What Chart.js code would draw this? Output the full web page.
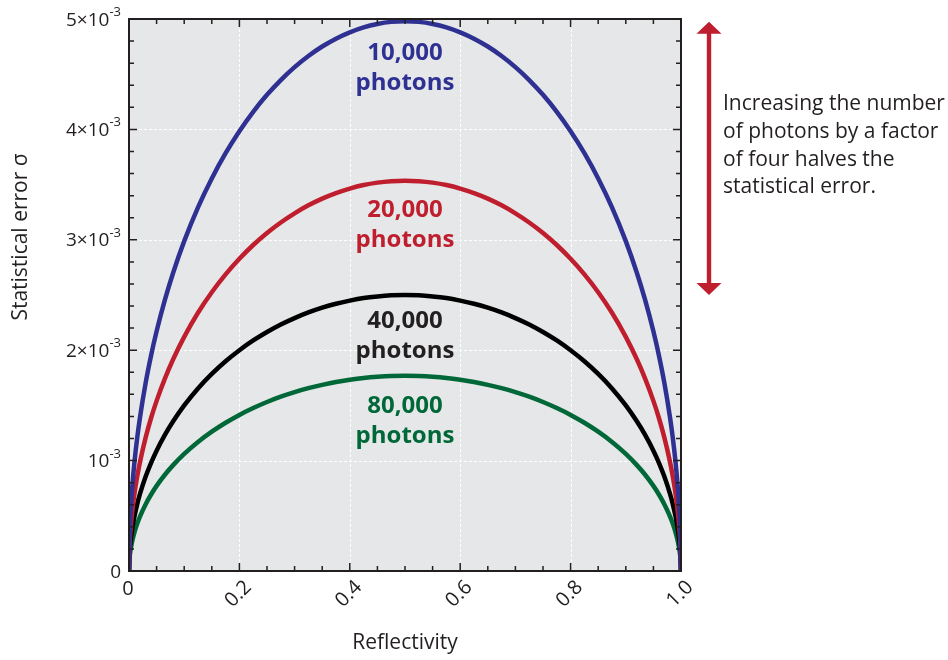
<!DOCTYPE html>
<html>
<head>
<meta charset="utf-8">
<script src="https://cdn.jsdelivr.net/npm/chart.js@4.4.1/dist/chart.umd.min.js"></script>
<style>
  html, body { margin: 0; padding: 0; background: #fff; }
  canvas { display: block; }
</style>
</head>
<body>
<canvas id="myChart" width="948" height="660"></canvas>
<script>
// Reflectivity R (x axis)
var reflectivity = [0, 0.001, 0.003, 0.006, 0.01, 0.015, 0.02, 0.03, 0.04, 0.05, 0.065, 0.08, 0.1, 0.125, 0.15, 0.175,
  0.2, 0.225, 0.25, 0.275, 0.3, 0.325, 0.35, 0.375, 0.4, 0.425, 0.45, 0.475, 0.5,
  0.525, 0.55, 0.575, 0.6, 0.625, 0.65, 0.675, 0.7, 0.725, 0.75, 0.775, 0.8,
  0.825, 0.85, 0.875, 0.9, 0.92, 0.935, 0.95, 0.96, 0.97, 0.98, 0.985, 0.99, 0.994, 0.997, 0.999, 1];

// Statistical error sigma, in units of 10^-3
var sigma10k = [0, 0.315, 0.545, 0.769, 0.991, 1.211, 1.394, 1.699, 1.952, 2.171, 2.455, 2.702, 2.988, 3.294, 3.556, 3.785,
  3.984, 4.159, 4.313, 4.447, 4.564, 4.665, 4.751, 4.822, 4.879, 4.924, 4.955, 4.974, 4.980,
  4.974, 4.955, 4.924, 4.879, 4.822, 4.751, 4.665, 4.564, 4.447, 4.313, 4.159, 3.984,
  3.785, 3.556, 3.294, 2.988, 2.702, 2.455, 2.171, 1.952, 1.699, 1.394, 1.211, 0.991, 0.769, 0.545, 0.315, 0];
var sigma20k = [0, 0.224, 0.387, 0.546, 0.704, 0.860, 0.990, 1.206, 1.386, 1.541, 1.743, 1.918, 2.121, 2.339, 2.525, 2.687,
  2.828, 2.953, 3.062, 3.157, 3.240, 3.312, 3.373, 3.423, 3.464, 3.496, 3.518, 3.531, 3.536,
  3.531, 3.518, 3.496, 3.464, 3.423, 3.373, 3.312, 3.240, 3.157, 3.062, 2.953, 2.828,
  2.687, 2.525, 2.339, 2.121, 1.918, 1.743, 1.541, 1.386, 1.206, 0.990, 0.860, 0.704, 0.546, 0.387, 0.224, 0];
var sigma40k = [0, 0.158, 0.273, 0.386, 0.497, 0.608, 0.700, 0.853, 0.980, 1.090, 1.233, 1.356, 1.500, 1.654, 1.785, 1.900,
  2.000, 2.088, 2.165, 2.233, 2.291, 2.342, 2.385, 2.421, 2.449, 2.472, 2.487, 2.497, 2.500,
  2.497, 2.487, 2.472, 2.449, 2.421, 2.385, 2.342, 2.291, 2.233, 2.165, 2.088, 2.000,
  1.900, 1.785, 1.654, 1.500, 1.356, 1.233, 1.090, 0.980, 0.853, 0.700, 0.608, 0.497, 0.386, 0.273, 0.158, 0];
var sigma80k = [0, 0.112, 0.193, 0.273, 0.352, 0.430, 0.495, 0.603, 0.693, 0.771, 0.872, 0.959, 1.061, 1.169, 1.262, 1.343,
  1.414, 1.476, 1.531, 1.579, 1.620, 1.656, 1.686, 1.712, 1.732, 1.748, 1.759, 1.766, 1.768,
  1.766, 1.759, 1.748, 1.732, 1.712, 1.686, 1.656, 1.620, 1.579, 1.531, 1.476, 1.414,
  1.343, 1.262, 1.169, 1.061, 0.959, 0.872, 0.771, 0.693, 0.603, 0.495, 0.430, 0.352, 0.273, 0.193, 0.112, 0];

var seriesNames = ['10,000', '20,000', '40,000', '80,000'];
var seriesColors = ['#2e3192', '#be1e2d', '#000000', '#006838'];
var seriesTextColors = ['#2e3192', '#be1e2d', '#231f20', '#006838'];
var labelY = [4.63, 3.21, 2.20, 1.43]; // where the "N photons" labels sit (10^-3)

// Tick labels
var xTickValues = [0, 0.2, 0.4, 0.6, 0.8, 1.0];
var xTickLabels = ['0', '0.2', '0.4', '0.6', '0.8', '1.0'];
var yTickValues = [0, 1, 2, 3, 4, 5];
var yTickBase = ['0', '10', '2\u00d710', '3\u00d710', '4\u00d710', '5\u00d710'];
var yTickExp = ['', '-3', '-3', '-3', '-3', '-3'];

var xTitle = 'Reflectivity';
var yTitle = 'Statistical error \u03c3';
var noteLines = ['Increasing the number', 'of photons by a factor', 'of four halves the', 'statistical error.'];
var arrowFrom = 4.975, arrowTo = 2.5; // arrow span on the y scale (10^-3)

var ink = '#231f20';
var font = '"Open Sans", "Noto Sans", sans-serif';

function points(ys) {
  return reflectivity.map(function(r, i) { return { x: r, y: ys[i] }; });
}

var allSeries = [sigma10k, sigma20k, sigma40k, sigma80k];
var datasets = allSeries.map(function(s, i) {
  return {
    label: seriesNames[i] + ' photons',
    data: points(s),
    borderColor: seriesColors[i],
    backgroundColor: seriesColors[i],
    borderWidth: 4.5,
    pointRadius: 0,
    fill: false,
    cubicInterpolationMode: 'monotone'
  };
});

var framePlugin = {
  id: 'framePlugin',
  beforeDraw: function(chart) {
    var a = chart.chartArea, ctx = chart.ctx;
    ctx.save();
    ctx.fillStyle = '#e6e7e8';
    ctx.fillRect(a.left, a.top, a.right - a.left, a.bottom - a.top);
    ctx.restore();
  },
  beforeDatasetsDraw: function(chart) {
    var a = chart.chartArea, ctx = chart.ctx;
    var xs = chart.scales.x, ys = chart.scales.y;
    ctx.save();
    ctx.strokeStyle = '#ffffff';
    ctx.lineWidth = 1;
    ctx.setLineDash([3, 2]);
    xTickValues.slice(1, -1).forEach(function(v) {
      var px = Math.round(xs.getPixelForValue(v)) + 0.5;
      ctx.beginPath(); ctx.moveTo(px, a.top); ctx.lineTo(px, a.bottom); ctx.stroke();
    });
    yTickValues.slice(1, -1).forEach(function(v) {
      var py = Math.round(ys.getPixelForValue(v)) + 0.5;
      ctx.beginPath(); ctx.moveTo(a.left, py); ctx.lineTo(a.right, py); ctx.stroke();
    });
    ctx.restore();
  },
  afterDatasetsDraw: function(chart) {
    var a = chart.chartArea, ctx = chart.ctx;
    var xs = chart.scales.x, ys = chart.scales.y;
    ctx.save();
    ctx.strokeStyle = ink;
    ctx.lineWidth = 2;
    ctx.strokeRect(a.left, a.top, a.right - a.left, a.bottom - a.top);
    ctx.lineWidth = 1.5;
    // x ticks, every 0.05, major every 0.2
    for (var i = 0; i <= 20; i++) {
      var len = (i % 4 === 0) ? 8 : 5;
      var px = xs.getPixelForValue(i * 0.05);
      ctx.beginPath();
      ctx.moveTo(px, a.bottom); ctx.lineTo(px, a.bottom - len);
      ctx.moveTo(px, a.top); ctx.lineTo(px, a.top + len);
      ctx.stroke();
    }
    // y ticks, every 0.2, major every 1
    for (var j = 0; j <= 25; j++) {
      var lenY = (j % 5 === 0) ? 8 : 5;
      var py = ys.getPixelForValue(j * 0.2);
      ctx.beginPath();
      ctx.moveTo(a.left, py); ctx.lineTo(a.left + lenY, py);
      ctx.moveTo(a.right, py); ctx.lineTo(a.right - lenY, py);
      ctx.stroke();
    }
    ctx.restore();
  },
  afterDraw: function(chart) {
    var a = chart.chartArea, ctx = chart.ctx;
    var xs = chart.scales.x, ys = chart.scales.y;
    ctx.save();
    ctx.fillStyle = ink;

    // y tick labels with superscript exponent
    yTickValues.forEach(function(v, i) {
      var py = ys.getPixelForValue(v);
      ctx.font = '19px ' + font;
      var wb = ctx.measureText(yTickBase[i]).width;
      ctx.font = '13px ' + font;
      var we = yTickExp[i] ? ctx.measureText(yTickExp[i]).width : 0;
      var right = a.left - 8;
      ctx.textAlign = 'left';
      ctx.textBaseline = 'alphabetic';
      ctx.font = '19px ' + font;
      ctx.fillText(yTickBase[i], right - we - wb, py + 6.5);
      if (yTickExp[i]) {
        ctx.font = '13px ' + font;
        ctx.fillText(yTickExp[i], right - we, py - 3);
      }
    });

    // x tick labels, rotated
    ctx.font = '20px ' + font;
    ctx.textAlign = 'center';
    ctx.textBaseline = 'middle';
    xTickValues.forEach(function(v, i) {
      var px = xs.getPixelForValue(v);
      if (v === 0) {
        ctx.fillText(xTickLabels[i], px - 1, a.bottom + 18);
      } else {
        ctx.save();
        ctx.translate(px - 1, a.bottom + 23);
        ctx.rotate(-Math.PI / 4);
        ctx.fillText(xTickLabels[i], 0, 0);
        ctx.restore();
      }
    });

    // axis titles
    ctx.font = '21px ' + font;
    ctx.textBaseline = 'alphabetic';
    ctx.fillText(xTitle, (a.left + a.right) / 2, a.bottom + 78);
    ctx.save();
    ctx.translate(27, 237);
    ctx.rotate(-Math.PI / 2);
    ctx.fillText(yTitle, 0, 0);
    ctx.restore();

    // curve labels
    ctx.font = 'bold 24px ' + font;
    var cx = xs.getPixelForValue(0.5);
    seriesNames.forEach(function(name, i) {
      var by = ys.getPixelForValue(labelY[i]);
      ctx.fillStyle = seriesTextColors[i];
      ctx.fillText(name, cx, by);
      ctx.fillText('photons', cx, by + 30);
    });

    // double-headed arrow
    var ax = a.right + 28;
    var top = ys.getPixelForValue(arrowFrom), bot = ys.getPixelForValue(arrowTo);
    ctx.fillStyle = '#be1e2d';
    ctx.fillRect(ax - 2.2, top + 10, 4.4, bot - top - 20);
    ctx.beginPath();
    ctx.moveTo(ax, top); ctx.lineTo(ax + 12.5, top + 12); ctx.lineTo(ax - 12.5, top + 12); ctx.closePath();
    ctx.fill();
    ctx.beginPath();
    ctx.moveTo(ax, bot); ctx.lineTo(ax + 12.5, bot - 12); ctx.lineTo(ax - 12.5, bot - 12); ctx.closePath();
    ctx.fill();

    // note text
    ctx.fillStyle = ink;
    ctx.font = '21px ' + font;
    ctx.textAlign = 'left';
    noteLines.forEach(function(line, i) {
      ctx.fillText(line, a.right + 42, 110 + i * 27.8);
    });
    ctx.restore();
  }
};

var ctx = document.getElementById('myChart').getContext('2d');
var myChart = new Chart(ctx, {
  type: 'line',
  data: { datasets: datasets },
  options: {
    responsive: false,
    animation: false,
    layout: { padding: { left: 129, top: 19, right: 267, bottom: 89 } },
    plugins: { legend: { display: false }, tooltip: { enabled: false } },
    scales: {
      x: { type: 'linear', min: 0, max: 1, display: false },
      y: { type: 'linear', min: 0, max: 5, display: false }
    }
  },
  plugins: [framePlugin]
});
</script>
</body>
</html>
